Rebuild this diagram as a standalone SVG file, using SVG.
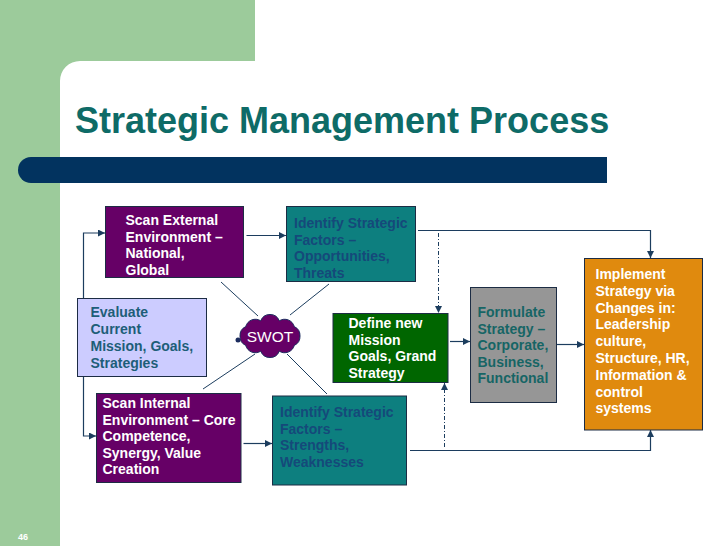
<svg xmlns="http://www.w3.org/2000/svg" width="728" height="546" viewBox="0 0 728 546">
<defs>
<style>
.t{font-family:"Liberation Sans",Arial,sans-serif;font-weight:bold;font-size:14px}
.w{fill:#ffffff}
.bx{stroke:#1c2c44;stroke-width:1}
.c{fill:none;stroke:#1c3d5e;stroke-width:1.2}
.dd{fill:none;stroke:#1c3d5e;stroke-width:1;stroke-dasharray:4 2 1 2}
.s{fill:none;stroke:#1c3d5e;stroke-width:1}
.id{fill:#15497a}
</style>
<marker id="ah" viewBox="0 0 8 8" refX="8" refY="4" markerWidth="7" markerHeight="7" markerUnits="userSpaceOnUse" orient="auto">
<path d="M0,0 L8,4 L0,8 Z" fill="#1c3d5e"/>
</marker>
</defs>
<rect x="0" y="0" width="728" height="546" fill="#ffffff"/>
<path d="M0,0 H255 V61 H80 A20,20 0 0 0 60,81 V546 H0 Z" fill="#9ccb9b"/>
<text x="75" y="133" font-family="'Liberation Sans',Arial,sans-serif" font-weight="bold" font-size="36" fill="#0e6b67">Strategic Management Process</text>
<path d="M31,157 H607 V183 H31 A13,13 0 0 1 31,157 Z" fill="#02335f"/>
<text x="18" y="540" font-family="'Liberation Sans',Arial,sans-serif" font-weight="bold" font-size="9" fill="#ffffff">46</text>

<g id="connectors">
<path class="c" d="M83.5,298 V233 H105" marker-end="url(#ah)"/>
<path class="c" d="M83.5,377 V436 H96" marker-end="url(#ah)"/>
<path class="c" d="M246.5,235.5 H286" marker-end="url(#ah)"/>
<path class="c" d="M243.5,443.5 H272" marker-end="url(#ah)"/>
<path class="c" d="M418,230.5 H650.5 V258" marker-end="url(#ah)"/>
<path class="c" d="M410,450.5 H650.5 V430" marker-end="url(#ah)"/>
<path class="c" d="M450,341.5 H470" marker-end="url(#ah)"/>
<path class="c" d="M557,344.5 H584" marker-end="url(#ah)"/>
<path class="dd" d="M438.5,233 V313" marker-end="url(#ah)"/>
<path class="dd" d="M444.5,447 V383" marker-end="url(#ah)"/>
<line class="s" x1="221" y1="282" x2="258" y2="316"/>
<line class="s" x1="329" y1="284" x2="290" y2="315"/>
<line class="s" x1="255" y1="354" x2="203" y2="389"/>
<line class="s" x1="287" y1="354" x2="327" y2="394"/>
</g>

<g id="scan-external">
<rect class="bx" x="105.5" y="206.5" width="138" height="71" fill="#660066"/>
<text class="t w" x="125.5"><tspan x="125.5" y="225">Scan External</tspan><tspan x="125.5" y="241.7">Environment –</tspan><tspan x="125.5" y="258.4">National,</tspan><tspan x="125.5" y="275">Global</tspan></text>
</g>

<g id="identify-opportunities">
<rect class="bx" x="286.5" y="206.5" width="129" height="75" fill="#0d7f7f"/>
<text class="t id"><tspan x="294" y="228">Identify Strategic</tspan><tspan x="294" y="244.7">Factors –</tspan><tspan x="294" y="261.4">Opportunities,</tspan><tspan x="294" y="278">Threats</tspan></text>
</g>

<g id="evaluate">
<rect class="bx" x="77.5" y="298.5" width="129" height="78" fill="#ccccff"/>
<text class="t" fill="#1d5e78"><tspan x="90.5" y="317">Evaluate</tspan><tspan x="90.5" y="334">Current</tspan><tspan x="90.5" y="351">Mission, Goals,</tspan><tspan x="90.5" y="368">Strategies</tspan></text>
</g>

<g id="swot">
<path d="M240,336 A10,10 0 0 1 245.7,326.6 A10,10 0 0 1 260.7,320.8 A10,10 0 0 1 279.3,320.8 A10,10 0 0 1 294.3,326.6 A10,10 0 0 1 300,336 A10,10 0 0 1 294.3,345.4 A10,10 0 0 1 279.3,351.2 A10,10 0 0 1 260.7,351.2 A10,10 0 0 1 245.7,345.4 A10,10 0 0 1 240,336 Z" fill="#660066" stroke="#1c2c5e" stroke-width="1"/>
<circle cx="238" cy="340" r="2.5" fill="#1c2c5e"/>
<text x="270" y="342" text-anchor="middle" font-family="'Liberation Sans',Arial,sans-serif" font-size="15.5" fill="#ffffff">SWOT</text>
</g>

<g id="define-mission">
<rect class="bx" x="333" y="313.5" width="115" height="69" fill="#006600"/>
<text class="t w"><tspan x="348.5" y="328">Define new</tspan><tspan x="348.5" y="344.7">Mission</tspan><tspan x="348.5" y="361.4">Goals, Grand</tspan><tspan x="348.5" y="378">Strategy</tspan></text>
</g>

<g id="scan-internal">
<rect class="bx" x="96.5" y="393.5" width="144.5" height="89" fill="#660066"/>
<text class="t w"><tspan x="102.5" y="408">Scan Internal</tspan><tspan x="102.5" y="424.6">Environment – Core</tspan><tspan x="102.5" y="441.2">Competence,</tspan><tspan x="102.5" y="457.8">Synergy, Value</tspan><tspan x="102.5" y="474.4">Creation</tspan></text>
</g>

<g id="identify-strengths">
<rect class="bx" x="272.5" y="396" width="134" height="89" fill="#0d7f7f"/>
<text class="t id"><tspan x="280" y="417">Identify Strategic</tspan><tspan x="280" y="433.6">Factors –</tspan><tspan x="280" y="450.2">Strengths,</tspan><tspan x="280" y="466.8">Weaknesses</tspan></text>
</g>

<g id="formulate">
<rect class="bx" x="470.5" y="287.5" width="86" height="115" fill="#969696"/>
<text class="t" fill="#166565"><tspan x="477.5" y="317">Formulate</tspan><tspan x="477.5" y="333.6">Strategy –</tspan><tspan x="477.5" y="350.2">Corporate,</tspan><tspan x="477.5" y="366.8">Business,</tspan><tspan x="477.5" y="383.4">Functional</tspan></text>
</g>

<g id="implement">
<rect class="bx" x="584.5" y="258.5" width="118" height="171.5" fill="#e08a0e"/>
<text class="t w"><tspan x="595.5" y="279">Implement</tspan><tspan x="595.5" y="295.8">Strategy via</tspan><tspan x="595.5" y="312.6">Changes in:</tspan><tspan x="595.5" y="329.4">Leadership</tspan><tspan x="595.5" y="346.2">culture,</tspan><tspan x="595.5" y="363">Structure, HR,</tspan><tspan x="595.5" y="379.8">Information &amp;</tspan><tspan x="595.5" y="396.6">control</tspan><tspan x="595.5" y="413.4">systems</tspan></text>
</g>
</svg>
